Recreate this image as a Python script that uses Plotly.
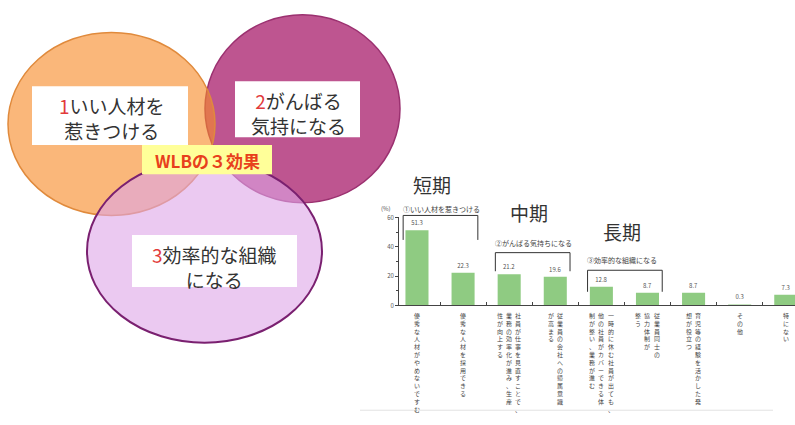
import plotly.graph_objects as go

# ---------------- data ----------------
categories = ["c1", "c2", "c3", "c4", "c5", "c6", "c7", "c8", "c9"]
values = [51.3, 22.3, 21.2, 19.6, 12.8, 8.7, 8.7, 0.3, 7.3]
value_labels = ["51.3", "22.3", "21.2", "19.6", "12.8", "8.7", "8.7", "0.3", "7.3"]
# vertical (tategaki) category labels, columns listed right-to-left
category_label_columns = [
    ["優秀な人材がやめないですむ"],
    ["優秀な人材を採用できる"],
    ["社員が仕事を見直すことで、", "業務の効率化が進み、生産", "性が向上する"],
    ["従業員の会社への帰属意識", "が高まる"],
    ["一時的に休む社員が出ても、", "他の社員がカバーできる体", "制が整い、業務が進む"],
    ["従業員同士の", "協力体制が", "整う"],
    ["育児等の経験を活かした発", "想が役立つ"],
    ["その他"],
    ["特にない"],
]
y_ticks = [0, 20, 40, 60]
group_labels = ["①いい人材を惹きつける", "②がんばる気持ちになる", "③効率的な組織になる"]
group_start = [0, 2, 4]
group_end = [1, 3, 5]
term_labels = ["短期", "中期", "長期"]
venn_titles = [("1", "いい人材を", "惹きつける"), ("2", "がんばる", "気持になる"), ("3", "効率的な組織", "になる")]
center_label = "WLBの３効果"

# ---------------- layout helpers ----------------
W, H = 795, 425
FONT = "Noto Sans CJK JP"


def px(x):
    return x / W


def py(y):
    return 1 - y / H


fig = go.Figure()

fig.add_trace(go.Bar(
    x=list(range(len(categories))), y=values,
    marker=dict(color="#8FCB82", line=dict(width=0)),
    width=0.5,
    text=value_labels, textposition="outside", cliponaxis=False,
    textfont=dict(size=6, color="#555", family=FONT),
    hoverinfo="skip",
))

shapes = []
annotations = []

# ---------------- Venn diagram ----------------
shapes.append(dict(type="circle", xref="paper", yref="paper",
                   x0=px(205), x1=px(400), y0=py(202), y1=py(10),
                   fillcolor="#BE5590", line=dict(color="#9B3170", width=1.5), layer="below"))
shapes.append(dict(type="circle", xref="paper", yref="paper",
                   x0=px(8), x1=px(215), y0=py(215), y1=py(28),
                   fillcolor="rgba(247,138,40,0.62)", line=dict(color="#E08A3C", width=1.5), layer="below"))
shapes.append(dict(type="circle", xref="paper", yref="paper",
                   x0=px(87), x1=px(322), y0=py(345), y1=py(158),
                   fillcolor="rgba(222,165,232,0.6)", line=dict(color="#7A2070", width=2), layer="below"))

for (x0, x1, y0, y1) in [(32, 188, 83, 143), (235, 360, 78, 135), (132, 297, 235, 288)]:
    shapes.append(dict(type="rect", xref="paper", yref="paper",
                       x0=px(x0), x1=px(x1), y0=py(y1), y1=py(y0),
                       fillcolor="white", line=dict(width=0), layer="below"))
shapes.append(dict(type="rect", xref="paper", yref="paper",
                   x0=px(142), x1=px(272), y0=py(173), y1=py(143),
                   fillcolor="#FFFF99", line=dict(width=0), layer="below"))

venn_pos = [(112, 115), (298, 110), (214, 268)]
for (num, l1, l2), (x, y) in zip(venn_titles, venn_pos):
    annotations.append(dict(xref="paper", yref="paper", x=px(x), y=py(y),
                            text=f"<span style='color:#E23B3B'>{num}</span>{l1}<br>{l2}",
                            showarrow=False, font=dict(size=19, color="#333", family=FONT),
                            xanchor="center", yanchor="middle", align="center"))
annotations.append(dict(xref="paper", yref="paper", x=px(207), y=py(159),
                        text=f"<b>{center_label}</b>", showarrow=False,
                        font=dict(size=17, color="#E8401C", family=FONT),
                        xanchor="center", yanchor="middle"))

# ---------------- term labels ----------------
for t, (x, y) in zip(term_labels, [(432, 183), (529, 212), (622, 231)]):
    annotations.append(dict(xref="paper", yref="paper", x=px(x), y=py(y), text=t,
                            showarrow=False, font=dict(size=19, color="#333", family=FONT),
                            xanchor="center", yanchor="middle"))

# ---------------- brackets ----------------
bracket_geo = [(215, 240, 208), (253, 272, 243), (271, 293, 261)]  # top, leg bottom, label y (px)
for lab, s, e, (top, bot, ly) in zip(group_labels, group_start, group_end, bracket_geo):
    xa, xb = s - 0.3, e + 0.32
    for (x0, y0, x1, y1) in [(xa, bot, xa, top), (xa, top, xb, top), (xb, top, xb, bot)]:
        shapes.append(dict(type="line", xref="x", yref="paper", x0=x0, x1=x1,
                           y0=py(y0), y1=py(y1), line=dict(color="#333", width=1)))
    annotations.append(dict(xref="x", yref="paper", x=xa - 0.05, y=py(ly), text=lab,
                            showarrow=False, font=dict(size=7, color="#444", family=FONT),
                            xanchor="left", yanchor="middle"))

# ---------------- vertical category labels ----------------
col_step = 0.2
for i, cols in enumerate(category_label_columns):
    n = len(cols)
    for k, col in enumerate(cols):
        off = ((n - 1) / 2 - k) * col_step
        annotations.append(dict(xref="x", yref="paper", x=i + off, y=py(311),
                                text="<br>".join(list(col)), showarrow=False,
                                font=dict(size=6, color="#444", family=FONT),
                                xanchor="center", yanchor="top"))

annotations.append(dict(xref="paper", yref="paper", x=px(386), y=py(208), text="(%)",
                        showarrow=False, font=dict(size=6, color="#555", family=FONT),
                        xanchor="center", yanchor="middle"))

shapes.append(dict(type="line", xref="paper", yref="paper", x0=px(360), x1=px(773),
                   y0=py(414), y1=py(414), line=dict(color="#E2E2E2", width=1)))

fig.update_layout(
    width=W, height=H, margin=dict(l=0, r=0, t=0, b=0),
    paper_bgcolor="white", plot_bgcolor="white",
    showlegend=False, shapes=shapes, annotations=annotations,
    font=dict(family=FONT),
    xaxis=dict(domain=[px(399), 1], range=[-0.39, 8.2], showgrid=False, zeroline=False,
               showline=True, linecolor="#444", linewidth=1,
               tickmode="array", tickvals=[i + 0.5 for i in range(len(categories))],
               ticks="inside", ticklen=3, tickcolor="#444", showticklabels=False),
    yaxis=dict(domain=[py(307), py(217)], range=[0, 60], showgrid=False, zeroline=False,
               showline=True, linecolor="#444", linewidth=1,
               tickmode="array", tickvals=y_ticks, ticks="outside", ticklen=3, tickcolor="#444",
               minor=dict(dtick=10, ticks="outside", ticklen=2, tickcolor="#444"),
               tickfont=dict(size=6, color="#555", family=FONT)),
)

fig.write_html("out.html")
